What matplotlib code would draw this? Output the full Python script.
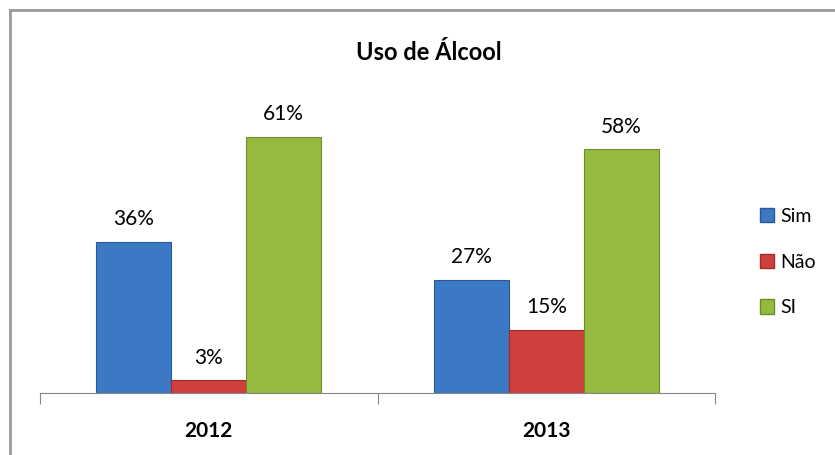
import matplotlib

matplotlib.use("Agg")
import matplotlib.pyplot as plt
from matplotlib.lines import Line2D
import numpy as np

plt.rcParams["font.family"] = ["Lato", "DejaVu Sans"]

years = ["2012", "2013"]
series = ["Sim", "Não", "SI"]
values = {
    "Sim": [36, 27],
    "Não": [3, 15],
    "SI": [61, 58],
}

C_FACE = {"Sim": "#3b79c5", "Não": "#cf403c", "SI": "#95ba3f"}
C_EDGE = {"Sim": "#2a5a96", "Não": "#9e2d2a", "SI": "#6f8c2a"}

W, H = 835, 455
fig = plt.figure(figsize=(W / 100, H / 100), dpi=100)
ax = fig.add_axes([40 / W, (H - 393) / H, 675 / W, 336 / H])

x = np.arange(len(years))
width = 75 / 337.5
for i, name in enumerate(series):
    pos = x + (i - 1) * width
    bars = ax.bar(pos, values[name], width, color=C_FACE[name],
                  edgecolor=C_EDGE[name], linewidth=0.8, label=name)
    for bar in bars:
        h = bar.get_height()
        ax.text(bar.get_x() + bar.get_width() / 2, h + 4, f"{h:.0f}%",
                ha="center", va="baseline", fontsize=15)

ax.set_xlim(-0.5, 1.5)
ax.set_ylim(0, 80)
for s in ["top", "right", "left"]:
    ax.spines[s].set_visible(False)
ax.spines["bottom"].set_color("#888888")
ax.set_yticks([])
ax.set_xticks([-0.5, 0.5, 1.5])
ax.set_xticklabels([])
ax.set_xticks(x, minor=True)
ax.set_xticklabels(years, minor=True, fontsize=15, fontweight="bold")
ax.tick_params(axis="x", which="major", length=8, color="#888888")
ax.tick_params(axis="x", which="minor", length=0, pad=20)

fig.text(429 / W, 1 - 52 / H, "Uso de Álcool", ha="center", va="center",
         fontsize=17, fontweight="bold")

leg = fig.legend(handles=[plt.Rectangle((0, 0), 1, 1, color=C_FACE[n], ec=C_EDGE[n]) for n in series],
                 labels=series, loc="center left", bbox_to_anchor=(742 / W, 1 - 262 / H),
                 frameon=False, fontsize=14, handlelength=0.75, handleheight=0.75,
                 handletextpad=0.3, labelspacing=1.48)

fig.add_artist(Line2D([10 / W, 1], [1 - 10 / H] * 2, color="#999999", lw=2))
fig.add_artist(Line2D([10 / W] * 2, [0, 1 - 10 / H], color="#999999", lw=2))

fig.savefig("out.png", dpi=100)
